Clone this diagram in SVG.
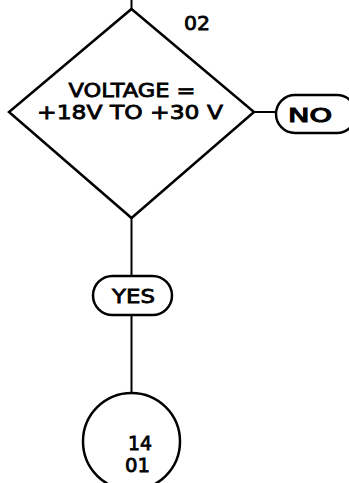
<svg xmlns="http://www.w3.org/2000/svg" width="349" height="483" viewBox="0 0 349 483">
<style>
.s{fill:none;stroke:#000;stroke-width:2.5}
.c{fill:none;stroke:#000;stroke-width:2}
.t{font-family:"DejaVu Sans","Liberation Sans",sans-serif;font-size:20px;fill:#000;stroke:#000;stroke-width:0.8;text-anchor:middle}
.b{stroke-width:1.2}
</style>
<rect width="349" height="483" fill="#fff"/>
<g id="connectors">
<line class="c" x1="131.5" y1="0" x2="131.5" y2="9"/>
<line class="c" x1="254" y1="112" x2="276" y2="112"/>
<line class="c" x1="131.5" y1="218" x2="131.5" y2="276"/>
<line class="c" x1="131.5" y1="315" x2="131.5" y2="393"/>
</g>
<g id="decision">
<polygon class="s" points="131.5,9 254,112 131.5,218 9,112"/>
<text class="t" x="132" y="97" textLength="127" lengthAdjust="spacingAndGlyphs">VOLTAGE =</text>
<text class="t" x="130" y="119" textLength="186" lengthAdjust="spacingAndGlyphs">+18V TO +30 V</text>
</g>
<g id="ref02">
<text class="t" x="197" y="30" textLength="26" lengthAdjust="spacingAndGlyphs">02</text>
</g>
<g id="no">
<rect class="s" x="276" y="95" width="80" height="38" rx="19" ry="19"/>
<text class="t b" x="310" y="122" textLength="44" lengthAdjust="spacingAndGlyphs">NO</text>
</g>
<g id="yes">
<rect class="s" x="93" y="276" width="79" height="39" rx="19.5" ry="19.5"/>
<text class="t" x="133.5" y="303" textLength="43" lengthAdjust="spacingAndGlyphs">YES</text>
</g>
<g id="connector14">
<circle class="s" cx="131.5" cy="441.5" r="48.5"/>
<text class="t" x="140" y="450" textLength="24" lengthAdjust="spacingAndGlyphs">14</text>
<text class="t" x="137.5" y="472" textLength="25" lengthAdjust="spacingAndGlyphs">01</text>
</g>
</svg>
